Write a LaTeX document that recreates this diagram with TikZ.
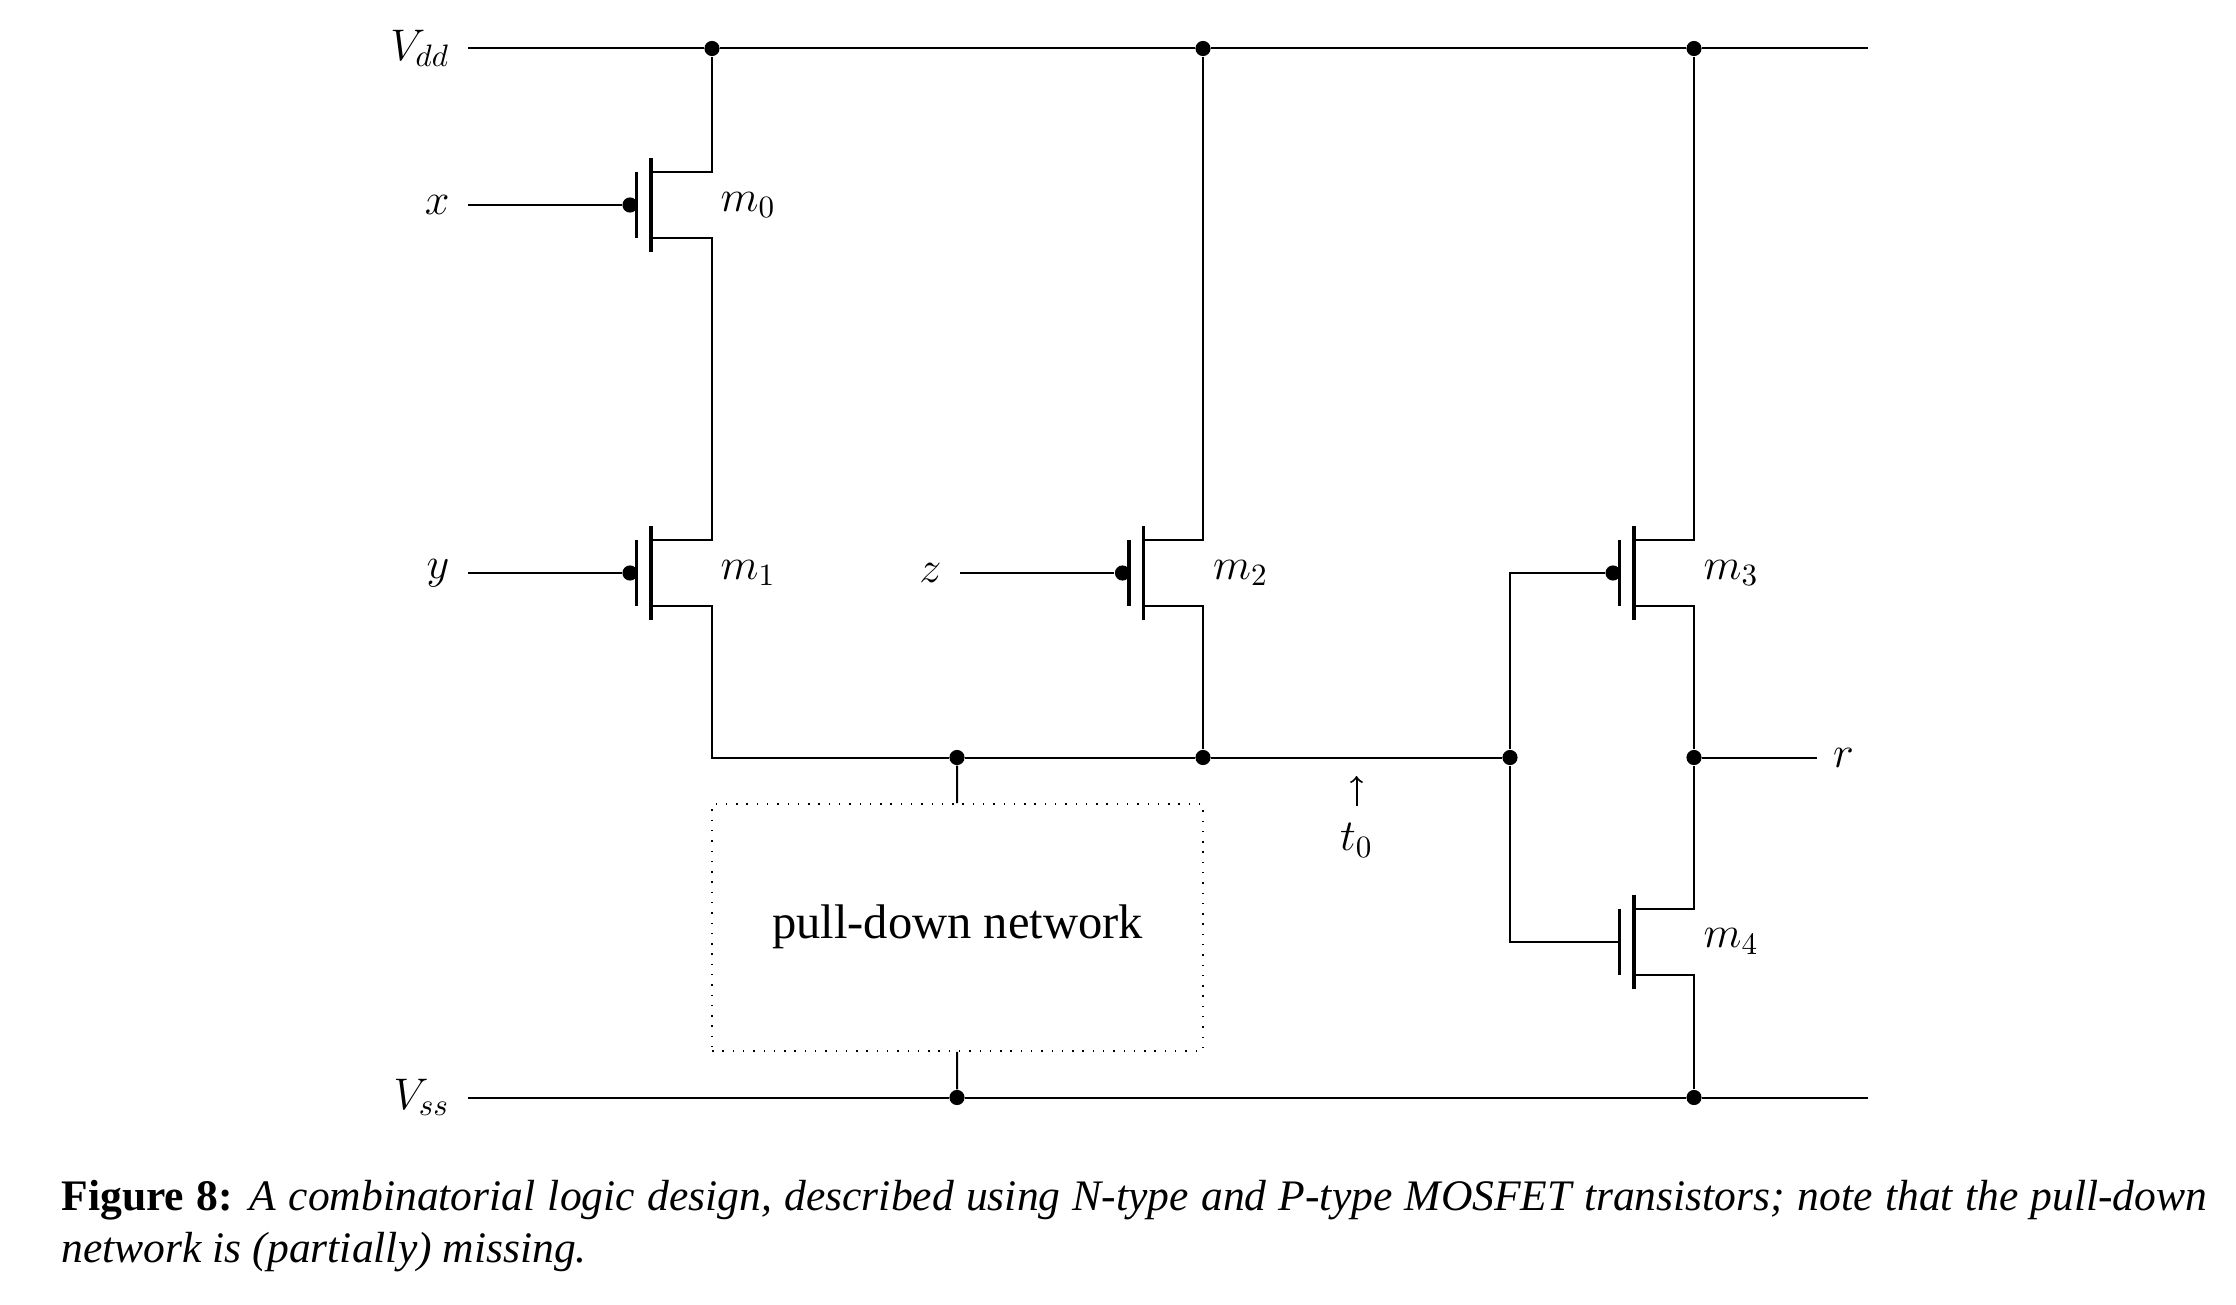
\documentclass[tikz,border=0pt]{standalone}
\usepackage{fix-cm}
\usepackage{fontspec}
\setmainfont{Liberation Serif}
\tikzset{
    wire/.style={line width=0.7pt},
    bar/.style={line width=1.2pt},
    junction/.style={circle, fill=black, inner sep=0pt, minimum size=5.3pt},
    inlabel/.style={anchor=east, inner sep=0pt, inner xsep=6.3pt},
    outlabel/.style={anchor=west, inner sep=0pt, inner xsep=5.4pt},
    every node/.append style={font=\fontsize{15.5}{18}\selectfont}
}

\begin{document}
\begin{tikzpicture}[x=0.35pt,y=-0.35pt]
    \useasboundingbox (0,0) rectangle (2236,1305);

    % the five transistors, the drain is on top
    \foreach \i/\px/\py in {0/651/205, 1/651/573, 2/1143.5/573, 3/1634/573, 4/1634/941.5} {
        \begin{scope}[shift={(\px,\py)}]
            \draw[bar] (0,-47) -- (0,47);
            \draw[bar] (-14.5,-33) -- (-14.5,33);
            \coordinate (m\i-d) at (0,-33);
            \coordinate (m\i-s) at (0,33);
            \coordinate (m\i-g) at (-14.5,0);
            \node[anchor=west, inner sep=0pt] (m\i-label) at (69,0) {$m_{\i}$};
        \end{scope}
    }
    \foreach \i/\px/\py in {0/630/205, 1/630/573, 2/1122.5/573, 3/1613/573} {
        \node[junction] (m\i-b) at (\px,\py) {};
    }

    \node[inlabel] (vdd) at (468,48.5) {$V_{dd}$};
    \node[inlabel] (vss) at (468,1097.5) {$V_{ss}$};
    \node[inlabel] (x) at (468,205) {$x$};
    \node[inlabel] (y) at (468,573) {$y$};
    \node[inlabel] (z) at (960,573) {$z$};
    \node[outlabel] (r) at (1817,757.5) {$r$};
    \coordinate (vddend) at (1868,48.5);
    \coordinate (vssend) at (1868,1097.5);

    \node[junction] (vdd0) at (712,48.5) {};
    \node[junction] (vdd1) at (1203,48.5) {};
    \node[junction] (vdd2) at (1694,48.5) {};
    \node[junction] (vss0) at (957,1097.5) {};
    \node[junction] (vss1) at (1694,1097.5) {};
    \node[junction] (bus0) at (957,757.5) {};
    \node[junction] (bus1) at (1203,757.5) {};
    \node[junction] (bus2) at (1510,757.5) {};
    \node[junction] (bus3) at (1694,757.5) {};

    \node[draw, line width=0.5pt, dash pattern=on 0.5pt off 3.1pt, minimum width=171.8pt, minimum height=86.5pt, inner sep=0pt] (pdn) at (957.5,927.5) {};
    \node[inner sep=0pt, font=\fontsize{17}{20}\selectfont] (pdnlabel) at (957.5,926.5) {pull-down network};

    \draw[wire] (vdd) -- (vdd0) -- (vdd1) -- (vdd2) -- (vddend);
    \draw[wire] (vss) -- (vss0) -- (vss1) -- (vssend);

    \draw[wire] (x) -- (m0-b);
    \draw[wire] (y) -- (m1-b);
    \draw[wire] (z) -- (m2-b);

    \draw[wire] (m0-d) -| (vdd0);
    \draw[wire] (m0-s) -- ++(61,0) |- (m1-d);
    \draw[wire] (m1-s) -- ++(61,0) |- (bus0);
    \draw[wire] (bus0) -- (bus1) -- (bus2);
    \draw[wire] (m2-d) -| (vdd1);
    \draw[wire] (m2-s) -| (bus1);
    \draw[wire] (m3-d) -| (vdd2);
    \draw[wire] (m3-s) -| (bus3);
    \draw[wire] (m4-d) -| (bus3);
    \draw[wire] (m4-s) -| (vss1);
    \draw[wire] (bus2) |- (m3-b);
    \draw[wire] (bus2) |- (m4-g);
    \draw[wire] (bus3) -- (r);
    \draw[wire] (bus0) -- (pdn);
    \draw[wire] (pdn) -- (vss0);

    \node[inner sep=0pt, outer sep=6pt] (t0) at (1356.5,840.5) {$t_0$};
    \coordinate (t0tip) at (1356.5,776);
    \draw[wire,->] (t0) -- (t0tip);

    \node[anchor=north west, align=justify, text width=751pt, inner sep=0pt, font=\fontsize{15.25}{18}\selectfont] (caption) at (61,1180) {\textbf{Figure 8:} \textit{A combinatorial logic design, described using N-type and P-type MOSFET transistors; note that the pull-down network is (partially) missing.}};
\end{tikzpicture}
\end{document}
